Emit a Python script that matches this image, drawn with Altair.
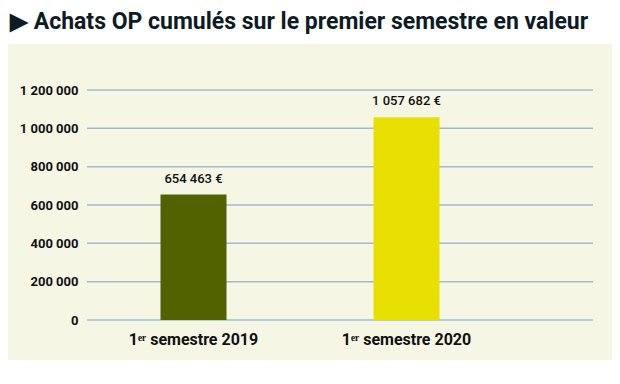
import altair as alt
import pandas as pd

categories = ["1ᵉʳ semestre 2019", "1ᵉʳ semestre 2020"]
values = [654463, 1057682]
y_ticks = [0, 200000, 400000, 600000, 800000, 1000000, 1200000]

bar_colors = ["#536200", "#e8e000"]
FONT = "Roboto"

df = pd.DataFrame({"cat": categories, "value": values})
ticks_df = pd.DataFrame({"tick": y_ticks})

xscale = alt.Scale(domain=categories, range=[0, 426], paddingInner=0, paddingOuter=0)
yscale = alt.Scale(domain=[0, 1200000], nice=False)
yaxis = alt.Axis(title=None, values=y_ticks, domain=False, ticks=False, zindex=1,
                 grid=False,
                 labelFont=FONT, labelFontSize=13, labelFontWeight="bold",
                 labelColor="#111111", labelPadding=9,
                 labelExpr="replace(format(datum.value, ','), regexp(',', 'g'), ' ')")
x = alt.X("cat:N", sort=categories, scale=xscale,
          axis=alt.Axis(title=None, labelAngle=0, domain=False, ticks=False, zindex=1,
                        labelFont=FONT, labelFontSize=16, labelFontWeight="bold",
                        labelColor="#111111", labelPadding=11))

panel = alt.Chart(df).mark_rect(color="#f5f6e4").encode(
    x=alt.value(-79), x2=alt.value(525), y=alt.value(-46), y2=alt.value(270)
)

grid = alt.Chart(ticks_df).mark_rule(color="#9dbcd1", strokeWidth=1.5).encode(
    y=alt.Y("tick:Q", scale=yscale, axis=yaxis),
    x=alt.value(0), x2=alt.value(506),
)

bars = alt.Chart(df).mark_bar(size=66).encode(
    x=x, y=alt.Y("value:Q", scale=yscale, axis=yaxis),
    color=alt.Color("cat:N", scale=alt.Scale(domain=categories, range=bar_colors), legend=None),
)

labels = alt.Chart(df).transform_calculate(
    label="replace(format(datum.value, ','), regexp(',', 'g'), ' ') + ' €'"
).mark_text(dy=-9, font=FONT, fontSize=13, fontWeight=500, color="#111111", baseline="bottom").encode(
    x=alt.X("cat:N", sort=categories, scale=xscale),
    y=alt.Y("value:Q", scale=yscale, axis=yaxis),
    text="label:N",
)

chart = alt.layer(panel, grid, bars, labels).properties(
    width=506, height=230,
    padding={"left": 79, "top": 82, "right": 19, "bottom": 56},
    autosize=alt.AutoSizeParams(type="none"),
    title=alt.Title("▶ Achats OP cumulés sur le premier semestre en valeur",
                    anchor="start", dx=2, offset=10, font=FONT, fontSize=23,
                    fontWeight="bold", color="#0d1b24"),
    background="white",
).configure_view(stroke=None)

chart.save("out.html", embed_options={"renderer": "svg", "actions": False})
